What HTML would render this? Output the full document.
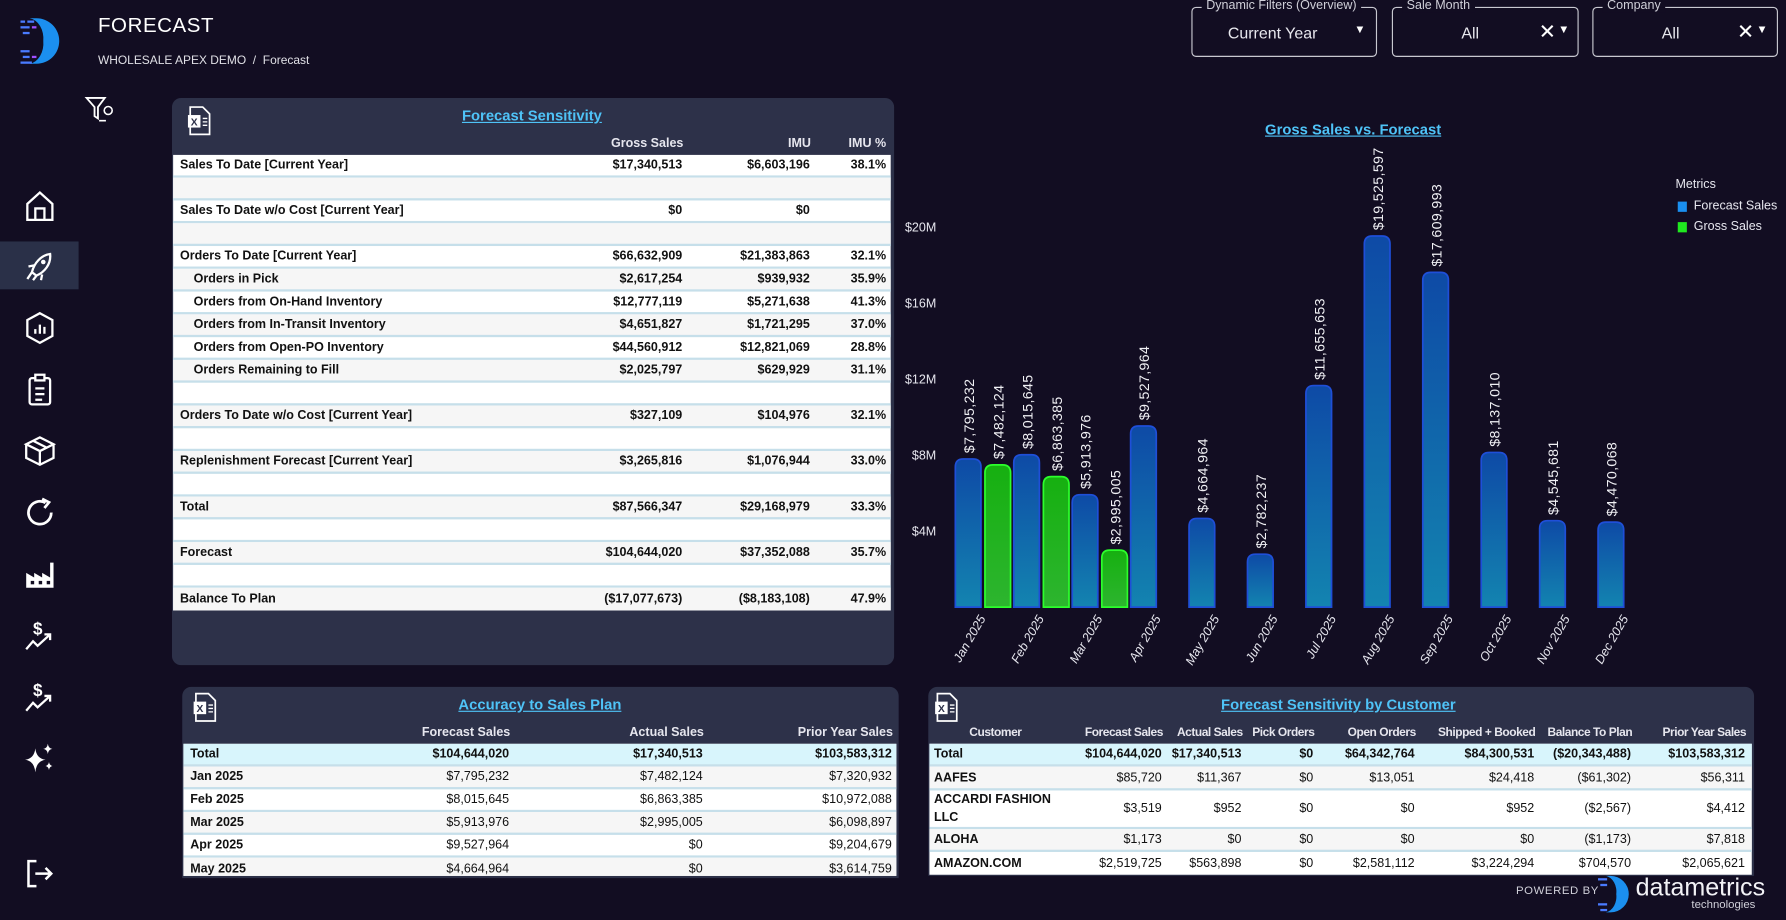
<!DOCTYPE html>
<html><head><meta charset="utf-8">
<style>
html,body{margin:0;padding:0;background:#120d22;overflow:hidden;}
body{width:1786px;height:920px;}
#wrap{position:absolute;left:0;top:0;width:1568px;height:808px;transform:scale(1.1390);transform-origin:0 0;background:#120d22;font-family:"Liberation Sans",Arial,sans-serif;color:#fff;}
.abs{position:absolute;}
.panel{position:absolute;background:#2d3149;border-radius:8px;}
.ptitle{position:absolute;color:#4fc3f7;text-decoration:underline;font-size:13px;font-weight:bold;white-space:nowrap;transform:translateX(-50%);}
.hdr{position:absolute;font-size:11px;font-weight:bold;color:#e6e6ee;white-space:nowrap;}
.cust .hdr{font-size:10.5px;letter-spacing:-0.4px;}
.tbl{position:absolute;background:#fff;}
.row{position:absolute;left:0;right:0;border-bottom:2px solid #c6dfea;box-sizing:border-box;font-size:11px;font-weight:bold;color:#111;}
.row.alt{background:#f6f6f6;}
.row.tot{background:#d8f5fc;}
.row span{position:absolute;top:50%;transform:translateY(-50%);white-space:nowrap;}
.norm span.v{font-weight:normal;}
.filter{position:absolute;border:1.5px solid #c8c8d0;border-radius:4px;height:44px;box-sizing:border-box;}
.filter .lab{position:absolute;top:-8px;left:8px;background:#120d22;padding:0 4px;font-size:11px;color:#cfcfd8;}
.filter .val{position:absolute;top:14px;font-size:14px;color:#e8e8ee;}
.icon{position:absolute;left:20px;width:30px;height:30px;}
.xl{position:absolute;width:22px;height:26px;}
</style></head>
<body>
<div id="wrap">

<svg class="abs" style="left:16px;top:14px" width="40" height="44">
 <path d="M16 2 A20 20 0 0 1 16 42 L10 42 A14 18 0 0 0 22 22 A14 18 0 0 0 10 2 Z" fill="#1b8fef"/>
 <g fill="#4a7bff"><rect x="2" y="4" width="4" height="2"/><rect x="8" y="4" width="6" height="2"/><rect x="2" y="9" width="8" height="2"/><rect x="4" y="14" width="6" height="2"/><rect x="2" y="30" width="8" height="2"/><rect x="4" y="35" width="6" height="2"/><rect x="2" y="40" width="10" height="2"/></g>
 <g fill="#a050ff"><rect x="12" y="9" width="4" height="2"/><rect x="12" y="35" width="4" height="2"/></g>
</svg>
<div class="abs" style="left:86px;top:12px;font-size:18px;letter-spacing:0.5px">FORECAST</div>
<div class="abs" style="left:86px;top:47px;font-size:10.5px;color:#e0e0e6"><span>WHOLESALE APEX DEMO</span> &nbsp;/&nbsp; <span>Forecast</span></div>

<svg class="abs" style="left:74px;top:84px" width="28" height="24"><path d="M2 2 H18 L12 10 V20 L9 18 V10 Z" fill="none" stroke="#fff" stroke-width="1.6"/><circle cx="21" cy="13" r="3.5" fill="none" stroke="#fff" stroke-width="1.4"/><line x1="13" y1="22" x2="19" y2="22" stroke="#fff" stroke-width="1.4"/></svg>

<div class="abs" style="left:0;top:212px;width:69px;height:42px;background:#2a3048"></div>
<svg class="icon" style="top:166px" viewBox="0 0 30 30"><path d="M4 13 L15 3 L26 13 V27 H4 Z M11 27 V17 H19 V27" fill="none" stroke="#fff" stroke-width="2"/></svg>
<svg class="icon" style="top:219px" viewBox="0 0 30 30"><path d="M24 4 C16 5 10 12 8 20 L12 23 C19 20 25 13 24 4 Z M8 20 L4 26 M12 23 L9 27 M10 14 L5 15 M17 22 L16 27" fill="none" stroke="#fff" stroke-width="2"/><circle cx="18" cy="11" r="2" fill="#fff"/></svg>
<svg class="icon" style="top:273px" viewBox="0 0 30 30"><path d="M15 2 L26 8 V22 L15 28 L4 22 V8 Z" fill="none" stroke="#fff" stroke-width="2"/><path d="M11 20 V16 M15 20 V12 M19 20 V14" stroke="#fff" stroke-width="2"/></svg>
<svg class="icon" style="top:327px" viewBox="0 0 30 30"><rect x="6" y="5" width="18" height="23" rx="2" fill="none" stroke="#fff" stroke-width="2"/><rect x="11" y="2" width="8" height="5" fill="#120d22" stroke="#fff" stroke-width="2"/><path d="M11 14 H19 M11 19 H19 M11 24 H17" stroke="#fff" stroke-width="2"/></svg>
<svg class="icon" style="top:381px" viewBox="0 0 30 30"><path d="M15 3 L27 9 L15 15 L3 9 Z M3 9 V21 L15 27 L27 21 V9 M15 15 V27 M9 6 L21 12" fill="none" stroke="#fff" stroke-width="2"/></svg>
<svg class="icon" style="top:435px" viewBox="0 0 30 30"><path d="M25 15 A10 10 0 1 1 20 6.5" fill="none" stroke="#fff" stroke-width="2.4"/><path d="M17 3 L23 6 L19 11" fill="none" stroke="#fff" stroke-width="2.4"/></svg>
<svg class="icon" style="top:489px" viewBox="0 0 30 30"><path d="M3 27 V14 L10 18 V14 L17 18 V14 L24 18 V5 H27 V27 Z" fill="#fff"/><rect x="7" y="21" width="3" height="3" fill="#120d22"/><rect x="14" y="21" width="3" height="3" fill="#120d22"/><rect x="21" y="21" width="3" height="3" fill="#120d22"/></svg>
<svg class="icon" style="top:543px" viewBox="0 0 30 30"><text x="9" y="14" fill="#fff" font-size="15" font-weight="bold" font-family="Liberation Sans">$</text><path d="M3 27 L9 20 L13 24 L24 14 M19 14 H24 V19" fill="none" stroke="#fff" stroke-width="2"/></svg>
<svg class="icon" style="top:597px" viewBox="0 0 30 30"><text x="9" y="14" fill="#fff" font-size="15" font-weight="bold" font-family="Liberation Sans">$</text><path d="M3 27 L9 20 L13 24 L24 14 M19 14 H24 V19" fill="none" stroke="#fff" stroke-width="2"/></svg>
<svg class="icon" style="top:651px" viewBox="0 0 30 30"><path d="M11 6 Q12 15 20 16 Q12 17 11 27 Q10 17 2 16 Q10 15 11 6 Z" fill="#fff"/><path d="M22 2 Q22.5 6 26 6.5 Q22.5 7 22 11 Q21.5 7 18 6.5 Q21.5 6 22 2 Z" fill="#fff"/><path d="M23 18 Q23.5 21 26 21.5 Q23.5 22 23 25 Q22.5 22 20 21.5 Q22.5 21 23 18 Z" fill="#fff"/></svg>
<svg class="icon" style="top:752px" viewBox="0 0 30 30"><path d="M12 4 H5 V26 H12" fill="none" stroke="#fff" stroke-width="2.2"/><path d="M11 15 H25 M20 10 L25 15 L20 20" fill="none" stroke="#fff" stroke-width="2.2"/></svg>

<div class="filter" style="left:1046px;top:6px;width:163px"><div class="lab">Dynamic Filters (Overview)</div><div class="val" style="left:31px">Current Year</div><div class="abs" style="left:142px;top:14px;font-size:10px">▼</div></div>
<div class="filter" style="left:1222px;top:6px;width:164px"><div class="lab">Sale Month</div><div class="val" style="left:60px">All</div><div class="abs" style="left:128px;top:11px;font-size:18px">✕</div><div class="abs" style="left:145px;top:14px;font-size:10px">▼</div></div>
<div class="filter" style="left:1398px;top:6px;width:163px"><div class="lab">Company</div><div class="val" style="left:60px">All</div><div class="abs" style="left:126px;top:11px;font-size:18px">✕</div><div class="abs" style="left:143px;top:14px;font-size:10px">▼</div></div>

<div class="panel" style="left:151px;top:86px;width:634px;height:498px">
 <svg class="xl" style="left:13px;top:7px" viewBox="0 0 22 26"><path d="M3 1 H14 L20 7 V25 H3 Z" fill="none" stroke="#fff" stroke-width="1.5"/><rect x="1" y="8" width="11" height="11" fill="#fff"/><text x="3.5" y="17" font-size="9" font-weight="bold" fill="#2d3149" font-family="Liberation Sans">X</text><path d="M14 11 H18 M14 14 H18 M14 17 H18" stroke="#fff" stroke-width="1.2"/></svg>
 <div class="ptitle" style="left:316px;top:8px">Forecast Sensitivity</div>
 <div class="hdr" style="right:185px;top:34px">Gross Sales</div>
 <div class="hdr" style="right:73px;top:34px">IMU</div>
 <div class="hdr" style="right:7px;top:34px">IMU %</div>
</div>
<div class="tbl" style="left:152px;top:136px;width:630px;height:400px">
 <div class="row" style="top:0;height:20px"><span style="left:6px">Sales To Date [Current Year]</span><span style="right:183px">$17,340,513</span><span style="right:71px">$6,603,196</span><span style="right:4px">38.1%</span></div>
 <div class="row alt" style="top:20px;height:20px"></div>
 <div class="row" style="top:40px;height:20px"><span style="left:6px">Sales To Date w/o Cost [Current Year]</span><span style="right:183px">$0</span><span style="right:71px">$0</span></div>
 <div class="row alt" style="top:60px;height:20px"></div>
 <div class="row" style="top:80px;height:20px"><span style="left:6px">Orders To Date [Current Year]</span><span style="right:183px">$66,632,909</span><span style="right:71px">$21,383,863</span><span style="right:4px">32.1%</span></div>
 <div class="row alt" style="top:100px;height:20px"><span style="left:18px">Orders in Pick</span><span style="right:183px">$2,617,254</span><span style="right:71px">$939,932</span><span style="right:4px">35.9%</span></div>
 <div class="row" style="top:120px;height:20px"><span style="left:18px">Orders from On-Hand Inventory</span><span style="right:183px">$12,777,119</span><span style="right:71px">$5,271,638</span><span style="right:4px">41.3%</span></div>
 <div class="row alt" style="top:140px;height:20px"><span style="left:18px">Orders from In-Transit Inventory</span><span style="right:183px">$4,651,827</span><span style="right:71px">$1,721,295</span><span style="right:4px">37.0%</span></div>
 <div class="row" style="top:160px;height:20px"><span style="left:18px">Orders from Open-PO Inventory</span><span style="right:183px">$44,560,912</span><span style="right:71px">$12,821,069</span><span style="right:4px">28.8%</span></div>
 <div class="row alt" style="top:180px;height:20px"><span style="left:18px">Orders Remaining to Fill</span><span style="right:183px">$2,025,797</span><span style="right:71px">$629,929</span><span style="right:4px">31.1%</span></div>
 <div class="row" style="top:200px;height:20px"></div>
 <div class="row alt" style="top:220px;height:20px"><span style="left:6px">Orders To Date w/o Cost [Current Year]</span><span style="right:183px">$327,109</span><span style="right:71px">$104,976</span><span style="right:4px">32.1%</span></div>
 <div class="row" style="top:240px;height:20px"></div>
 <div class="row alt" style="top:260px;height:20px"><span style="left:6px">Replenishment Forecast [Current Year]</span><span style="right:183px">$3,265,816</span><span style="right:71px">$1,076,944</span><span style="right:4px">33.0%</span></div>
 <div class="row" style="top:280px;height:20px"></div>
 <div class="row alt" style="top:300px;height:20px"><span style="left:6px">Total</span><span style="right:183px">$87,566,347</span><span style="right:71px">$29,168,979</span><span style="right:4px">33.3%</span></div>
 <div class="row" style="top:320px;height:20px"></div>
 <div class="row alt" style="top:340px;height:20px"><span style="left:6px">Forecast</span><span style="right:183px">$104,644,020</span><span style="right:71px">$37,352,088</span><span style="right:4px">35.7%</span></div>
 <div class="row" style="top:360px;height:20px"></div>
 <div class="row alt" style="top:380px;height:20px;border-bottom:none"><span style="left:6px">Balance To Plan</span><span style="right:183px">($17,077,673)</span><span style="right:71px">($8,183,108)</span><span style="right:4px">47.9%</span></div>
</div>

<div class="ptitle" style="left:1188px;top:106px">Gross Sales vs. Forecast</div>
<svg id="chart" class="abs" style="left:0;top:0" width="1568" height="600">
 <defs>
  <linearGradient id="gBlue" x1="0" y1="0" x2="0" y2="1"><stop offset="0" stop-color="#0e4aa6"/><stop offset="1" stop-color="#1384b0"/></linearGradient>
  <linearGradient id="gGreen" x1="0" y1="0" x2="0" y2="1"><stop offset="0" stop-color="#16b010"/><stop offset="1" stop-color="#2db52f"/></linearGradient>
 </defs>
</svg>
<div class="abs" style="left:1471px;top:156px;font-size:11px;color:#e6e6ee">Metrics</div>
<div class="abs" style="left:1473px;top:177px;width:8px;height:9px;background:#1a8ff0"></div>
<div class="abs" style="left:1487px;top:175px;font-size:11px;color:#e6e6ee">Forecast Sales</div>
<div class="abs" style="left:1473px;top:195px;width:8px;height:9px;background:#1fe81f"></div>
<div class="abs" style="left:1487px;top:193px;font-size:11px;color:#e6e6ee">Gross Sales</div>

<div class="panel" style="left:160px;top:603px;width:629px;height:168px;border-radius:8px 8px 0 0">
 <svg class="xl" style="left:9px;top:5px" viewBox="0 0 22 26"><path d="M3 1 H14 L20 7 V25 H3 Z" fill="none" stroke="#fff" stroke-width="1.5"/><rect x="1" y="8" width="11" height="11" fill="#fff"/><text x="3.5" y="17" font-size="9" font-weight="bold" fill="#2d3149" font-family="Liberation Sans">X</text><path d="M14 11 H18 M14 14 H18 M14 17 H18" stroke="#fff" stroke-width="1.2"/></svg>
 <div class="ptitle" style="left:314px;top:8px">Accuracy to Sales Plan</div>
 <div class="hdr" style="right:341px;top:34px">Forecast Sales</div>
 <div class="hdr" style="right:171px;top:34px">Actual Sales</div>
 <div class="hdr" style="right:5px;top:34px">Prior Year Sales</div>
</div>
<div class="tbl norm" style="left:161px;top:653px;width:626px;height:116px;overflow:hidden">
 <div class="row tot" style="top:0;height:20px"><span style="left:6px">Total</span><span style="right:340px">$104,644,020</span><span style="right:170px">$17,340,513</span><span style="right:4px">$103,583,312</span></div>
 <div class="row alt" style="top:20px;height:20px"><span style="left:6px">Jan 2025</span><span class="v" style="right:340px">$7,795,232</span><span class="v" style="right:170px">$7,482,124</span><span class="v" style="right:4px">$7,320,932</span></div>
 <div class="row" style="top:40px;height:20px"><span style="left:6px">Feb 2025</span><span class="v" style="right:340px">$8,015,645</span><span class="v" style="right:170px">$6,863,385</span><span class="v" style="right:4px">$10,972,088</span></div>
 <div class="row alt" style="top:60px;height:20px"><span style="left:6px">Mar 2025</span><span class="v" style="right:340px">$5,913,976</span><span class="v" style="right:170px">$2,995,005</span><span class="v" style="right:4px">$6,098,897</span></div>
 <div class="row" style="top:80px;height:20px"><span style="left:6px">Apr 2025</span><span class="v" style="right:340px">$9,527,964</span><span class="v" style="right:170px">$0</span><span class="v" style="right:4px">$9,204,679</span></div>
 <div class="row alt" style="top:100px;height:20px;border-bottom:none"><span style="left:6px">May 2025</span><span class="v" style="right:340px">$4,664,964</span><span class="v" style="right:170px">$0</span><span class="v" style="right:4px">$3,614,759</span></div>
</div>

<div class="panel cust" style="left:815px;top:603px;width:725px;height:166px;border-radius:8px 8px 0 0">
 <svg class="xl" style="left:5px;top:5px" viewBox="0 0 22 26"><path d="M3 1 H14 L20 7 V25 H3 Z" fill="none" stroke="#fff" stroke-width="1.5"/><rect x="1" y="8" width="11" height="11" fill="#fff"/><text x="3.5" y="17" font-size="9" font-weight="bold" fill="#2d3149" font-family="Liberation Sans">X</text><path d="M14 11 H18 M14 14 H18 M14 17 H18" stroke="#fff" stroke-width="1.2"/></svg>
 <div class="ptitle" style="left:360px;top:8px">Forecast Sensitivity by Customer</div>
 <div class="hdr" style="left:36px;top:34px">Customer</div>
 <div class="hdr" style="right:519px;top:34px">Forecast Sales</div>
 <div class="hdr" style="right:449px;top:34px">Actual Sales</div>
 <div class="hdr" style="right:386px;top:34px">Pick Orders</div>
 <div class="hdr" style="right:297px;top:34px">Open Orders</div>
 <div class="hdr" style="right:192px;top:34px">Shipped + Booked</div>
 <div class="hdr" style="right:107px;top:34px">Balance To Plan</div>
 <div class="hdr" style="right:7px;top:34px">Prior Year Sales</div>
</div>
<div class="tbl norm" style="left:816px;top:653px;width:722px;height:115px">
 <div class="row tot" style="top:0;height:20px"><span style="left:4px">Total</span><span style="right:518px">$104,644,020</span><span style="right:448px">$17,340,513</span><span style="right:385px">$0</span><span style="right:296px">$64,342,764</span><span style="right:191px">$84,300,531</span><span style="right:106px">($20,343,488)</span><span style="right:6px">$103,583,312</span></div>
 <div class="row alt" style="top:20px;height:21px"><span style="left:4px">AAFES</span><span class="v" style="right:518px">$85,720</span><span class="v" style="right:448px">$11,367</span><span class="v" style="right:385px">$0</span><span class="v" style="right:296px">$13,051</span><span class="v" style="right:191px">$24,418</span><span class="v" style="right:106px">($61,302)</span><span class="v" style="right:6px">$56,311</span></div>
 <div class="row" style="top:41px;height:34px"><span style="left:4px;line-height:16px">ACCARDI FASHION<br>LLC</span><span class="v" style="right:518px">$3,519</span><span class="v" style="right:448px">$952</span><span class="v" style="right:385px">$0</span><span class="v" style="right:296px">$0</span><span class="v" style="right:191px">$952</span><span class="v" style="right:106px">($2,567)</span><span class="v" style="right:6px">$4,412</span></div>
 <div class="row alt" style="top:75px;height:20px"><span style="left:4px">ALOHA</span><span class="v" style="right:518px">$1,173</span><span class="v" style="right:448px">$0</span><span class="v" style="right:385px">$0</span><span class="v" style="right:296px">$0</span><span class="v" style="right:191px">$0</span><span class="v" style="right:106px">($1,173)</span><span class="v" style="right:6px">$7,818</span></div>
 <div class="row" style="top:95px;height:20px;border-bottom:none"><span style="left:4px">AMAZON.COM</span><span class="v" style="right:518px">$2,519,725</span><span class="v" style="right:448px">$563,898</span><span class="v" style="right:385px">$0</span><span class="v" style="right:296px">$2,581,112</span><span class="v" style="right:191px">$3,224,294</span><span class="v" style="right:106px">$704,570</span><span class="v" style="right:6px">$2,065,621</span></div>
</div>

<div class="abs" style="left:1331px;top:777px;font-size:10px;color:#cfcfd8;letter-spacing:0.5px">POWERED BY</div>
<svg class="abs" style="left:1402px;top:768px" width="30" height="34"><path d="M12 1 A16 16 0 0 1 12 33 L8 33 A11 14 0 0 0 17 17 A11 14 0 0 0 8 1 Z" fill="#1b8fef"/><g fill="#4a7bff"><rect x="1" y="3" width="8" height="2"/><rect x="3" y="8" width="6" height="2"/><rect x="1" y="25" width="8" height="2"/><rect x="3" y="30" width="6" height="2"/></g></svg>
<div class="abs" style="left:1436px;top:766px;font-size:22px;color:#f2f2f6">datametrics</div>
<div class="abs" style="left:1485px;top:789px;font-size:10px;color:#cfcfd8">technologies</div>

</div>
<script>
const months = ["Jan 2025","Feb 2025","Mar 2025","Apr 2025","May 2025","Jun 2025","Jul 2025","Aug 2025","Sep 2025","Oct 2025","Nov 2025","Dec 2025"];
const forecastSales = [7795232,8015645,5913976,9527964,4664964,2782237,11655653,19525597,17609993,8137010,4545681,4470068];
const grossSales = [7482124,6863385,2995005,0,0,0,0,0,0,0,0,0];
const yTicks = [4000000,8000000,12000000,16000000,20000000];
const yTickLabels = ["$4M","$8M","$12M","$16M","$20M"];

const NS = "http://www.w3.org/2000/svg";
const svg = document.getElementById("chart");
const plotBottom = 533, pxPerUnit = 66.75/4000000;
const bandX0 = 838, bandW = 51.3, barW = 24;
function yScale(v){ return plotBottom - v*pxPerUnit; }
function bandLeft(i){ return bandX0 + i*bandW; }
function fmt(v){ return "$" + v.toLocaleString("en-US"); }
function mk(tag, attrs){ const e=document.createElementNS(NS,tag); for(const k in attrs) e.setAttribute(k,attrs[k]); svg.appendChild(e); return e; }
function barPath(x,y,w,h,r){ r=Math.min(r,h/2,w/2); return `M${x},${y+h} V${y+r} Q${x},${y} ${x+r},${y} H${x+w-r} Q${x+w},${y} ${x+w},${y+r} V${y+h} Z`; }

yTicks.forEach((t,i)=>{
  const e = mk("text",{x:822,y:yScale(t)+4,"text-anchor":"end","font-size":"11","fill":"#e6e6ee","font-family":"Liberation Sans"});
  e.textContent = yTickLabels[i];
  
  
});

function drawBar(i, v, offset, fill, stroke, name){
  const x = bandLeft(i) + offset;
  const y = yScale(v);
  const p = mk("path",{d:barPath(x+0.75,y,barW-1.5,plotBottom-y,7),fill:fill,stroke:stroke,"stroke-width":"1.5"});
  
  
  const cx = x + barW/2 + 5;
  const t = mk("text",{x:cx,y:y-5,transform:`rotate(-90 ${cx} ${y-5})`,"font-size":"12.5","fill":"#f0f0f4","font-family":"Liberation Sans","letter-spacing":"0.3"});
  t.textContent = fmt(v);
  
  
}

months.forEach((m,i)=>{
  drawBar(i, forecastSales[i], 0, "url(#gBlue)", "#1f4fd8", "bar-forecast-"+i);
  if (grossSales[i] > 0) drawBar(i, grossSales[i], barW+2, "url(#gGreen)", "#2cff2c", "bar-gross-"+i);
  const lx = bandLeft(i) + bandW/2 + 2, ly = 543;
  const t = mk("text",{x:lx,y:ly,transform:`rotate(-60 ${lx} ${ly})`,"text-anchor":"end","font-size":"11","font-style":"italic","fill":"#e6e6ee","font-family":"Liberation Sans"});
  t.textContent = m;
  
  
});
</script>
</body></html>
